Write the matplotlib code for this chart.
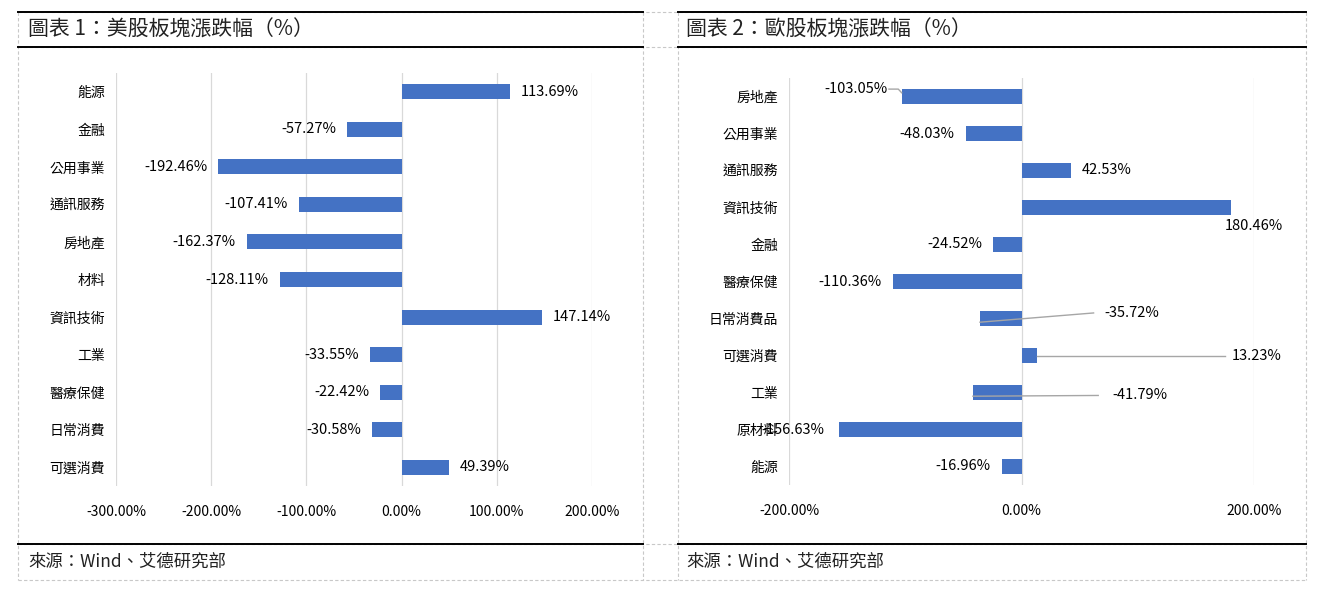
import matplotlib

matplotlib.use("Agg")
import matplotlib.pyplot as plt  # noqa: E402
from matplotlib.lines import Line2D  # noqa: E402
from matplotlib.ticker import FuncFormatter  # noqa: E402

plt.rcParams["font.family"] = ["Noto Sans CJK TC", "DejaVu Sans"]

BAR = "#4472C4"
GRID = "#d9d9d9"
LEADER = "#a6a6a6"

W, H = 1321, 592

us_sectors = ["能源", "金融", "公用事業", "通訊服務", "房地產", "材料",
              "資訊技術", "工業", "醫療保健", "日常消費", "可選消費"]
us_change = [113.69, -57.27, -192.46, -107.41, -162.37, -128.11,
             147.14, -33.55, -22.42, -30.58, 49.39]
us_ticks = [-300, -200, -100, 0, 100, 200]

eu_sectors = ["房地產", "公用事業", "通訊服務", "資訊技術", "金融", "醫療保健",
              "日常消費品", "可選消費", "工業", "原材料", "能源"]
eu_change = [-103.05, -48.03, 42.53, 180.46, -24.52, -110.36,
             -35.72, 13.23, -41.79, -156.63, -16.96]
eu_ticks = [-200, 0, 200]

# labels that were dragged away from the bar in the source chart:
# index -> (x in data units, row shift, alignment, leader end x or None)
eu_moved = {
    0: (-115, -0.2, "right", None),
    3: (200, 0.5, "center", None),
    6: (95, -0.15, "center", 62),
    7: (202, 0.0, "center", 175),
    8: (102, 0.08, "center", 66),
    9: (-197, 0.0, "center", None),
}


def fx(px):
    return px / W


def fy(py):
    return 1 - py / H


def pct(v, _=None):
    return f"{v:.2f}%"


def draw_bars(ax, cats, vals, ticks, lim):
    ys = list(range(len(cats)))
    ax.barh(ys, vals, height=0.4, color=BAR, zorder=2)
    ax.set_xlim(*lim)
    ax.set_ylim(len(cats) - 0.5, -0.5)
    ax.set_yticks(ys)
    ax.set_yticklabels(cats, fontsize=11.5)
    ax.set_xticks(ticks)
    ax.xaxis.set_major_formatter(FuncFormatter(pct))
    ax.tick_params(length=0, labelsize=10)
    ax.tick_params(axis="x", pad=14)
    ax.tick_params(axis="y", pad=8)
    ax.grid(True, axis="x", color=GRID, linewidth=0.9, zorder=0)
    for s in ax.spines.values():
        s.set_visible(False)
    return ys


fig = plt.figure(figsize=(W / 100, H / 100), dpi=100)

# table frame: dashed gray cell borders, solid black rules
for y in (12, 47, 544, 580):
    fig.add_artist(Line2D([fx(18), fx(1306)], [fy(y), fy(y)], color="#c8c8c8",
                          linewidth=0.8, linestyle=(0, (3, 2))))
for x in (18, 643, 678, 1306):
    fig.add_artist(Line2D([fx(x), fx(x)], [fy(12), fy(580)], color="#c8c8c8",
                          linewidth=0.8, linestyle=(0, (3, 2))))
for x0, x1 in ((18, 643), (678, 1306)):
    for y in (12, 47, 544):
        fig.add_artist(Line2D([fx(x0), fx(x1)], [fy(y), fy(y)], color="black",
                              linewidth=1.4))

fig.text(fx(28), fy(30), "圖表 1：美股板塊漲跌幅（%）", fontsize=15,
         color="#222222", va="center", ha="left")
fig.text(fx(686), fy(30), "圖表 2：歐股板塊漲跌幅（%）", fontsize=15,
         color="#222222", va="center", ha="left")
fig.text(fx(28), fy(562), "來源：Wind、艾德研究部", fontsize=12.5,
         color="#222222", va="center", ha="left")
fig.text(fx(686), fy(562), "來源：Wind、艾德研究部", fontsize=12.5,
         color="#222222", va="center", ha="left")

# left chart: US sectors
ax1 = fig.add_axes([fx(116), fy(486), fx(592 - 116), (486 - 73) / H])
ys = draw_bars(ax1, us_sectors, us_change, us_ticks, (-300, 200))
for y, v in zip(ys, us_change):
    ax1.annotate(pct(v), (v, y), xytext=(8 if v >= 0 else -8, 0),
                 textcoords="offset points", va="center",
                 ha="left" if v >= 0 else "right", fontsize=10.5)

# right chart: EU sectors
ax2 = fig.add_axes([fx(789), fy(485), fx(1254 - 789), (485 - 78) / H])
ys = draw_bars(ax2, eu_sectors, eu_change, eu_ticks, (-200, 200))
for y, v in zip(ys, eu_change):
    if y in eu_moved:
        tx, dy, ha, lead = eu_moved[y]
        ax2.text(tx, y + dy, pct(v), ha=ha, va="center", fontsize=10.5,
                 clip_on=False, zorder=4)
        if lead is not None:
            ax2.plot([v, lead], [y + 0.1 if v < 0 else y, y + dy],
                     color=LEADER, linewidth=1, zorder=3, clip_on=False)
        continue
    ax2.annotate(pct(v), (v, y), xytext=(8 if v >= 0 else -8, 0),
                 textcoords="offset points", va="center",
                 ha="left" if v >= 0 else "right", fontsize=10.5)
# small leader for the first label
ax2.plot([-114, -106, -103.05], [-0.2, -0.2, -0.1], color=LEADER,
         linewidth=1, zorder=3)

fig.savefig("out.png", dpi=100, facecolor="white")
